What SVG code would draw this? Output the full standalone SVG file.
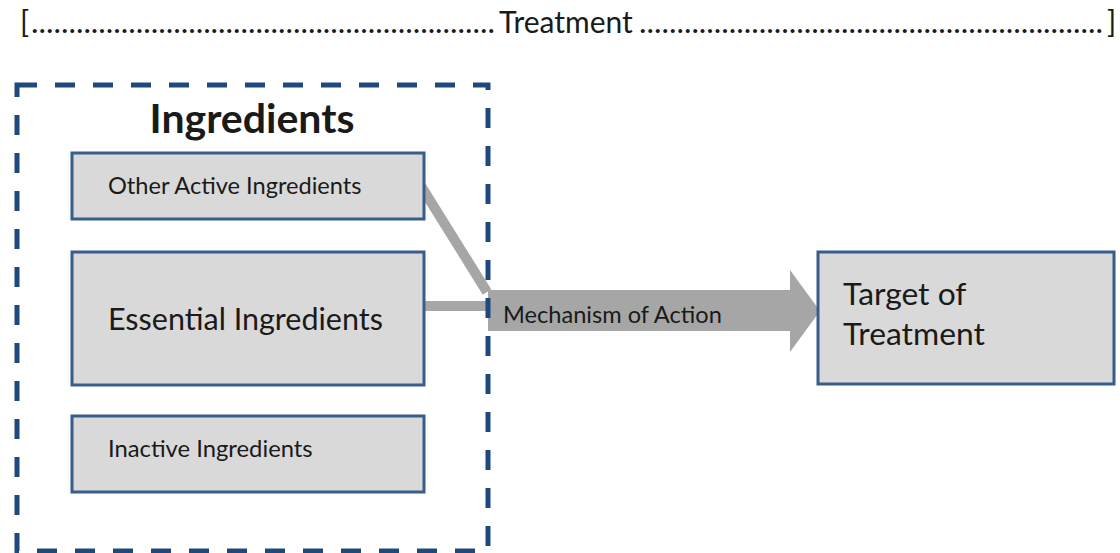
<svg xmlns="http://www.w3.org/2000/svg" width="1120" height="553" viewBox="0 0 1120 553">
<style>
.box{fill:#d9d9d9;stroke:#385d8a;stroke-width:3}
.t{font-family:Lato,"Liberation Sans",sans-serif;fill:#1a1a1a}
.conn{stroke:#a6a6a6;stroke-width:10;fill:none}
</style>
<rect width="1120" height="553" fill="#ffffff"/>
<g id="header" class="t" font-size="30" fill="#262626">
<text x="20" y="33">[</text>
<text x="31" y="33" textLength="464" lengthAdjust="spacingAndGlyphs">..............................................................</text>
<text x="499" y="33">Treatment</text>
<text x="639" y="33" textLength="464" lengthAdjust="spacingAndGlyphs">..............................................................</text>
<text x="1107" y="33">]</text>
</g>
<g id="connectors">
<line class="conn" x1="421" y1="186" x2="487" y2="292"/>
<line class="conn" x1="424" y1="306" x2="490" y2="306"/>
<polygon points="488,290 790,290 790,270 820,311 790,352 790,331 488,331" fill="#a6a6a6"/>
<text class="t" x="503" y="323" font-size="23.6">Mechanism of Action</text>
</g>
<g id="ingredients-group">
<rect x="17" y="85" width="471" height="466" fill="none" stroke="#1f497d" stroke-width="5" stroke-dasharray="20 18"/>
<text class="t" x="252" y="133" font-size="41" font-weight="bold" text-anchor="middle" fill="#000">Ingredients</text>
</g>
<g id="other-active">
<rect class="box" x="72" y="153" width="352" height="66"/>
<text class="t" x="108" y="194" font-size="23.6">Other Active Ingredients</text>
</g>
<g id="essential">
<rect class="box" x="72" y="252" width="352" height="133"/>
<text class="t" x="108" y="330" font-size="30.5">Essential Ingredients</text>
</g>
<g id="inactive">
<rect class="box" x="72" y="416" width="352" height="76"/>
<text class="t" x="108" y="457" font-size="23.8">Inactive Ingredients</text>
</g>
<g id="target">
<rect class="box" x="818" y="252" width="296" height="132"/>
<text class="t" x="843" y="305" font-size="31.8">Target of</text>
<text class="t" x="843" y="345" font-size="31.8">Treatment</text>
</g>
</svg>
